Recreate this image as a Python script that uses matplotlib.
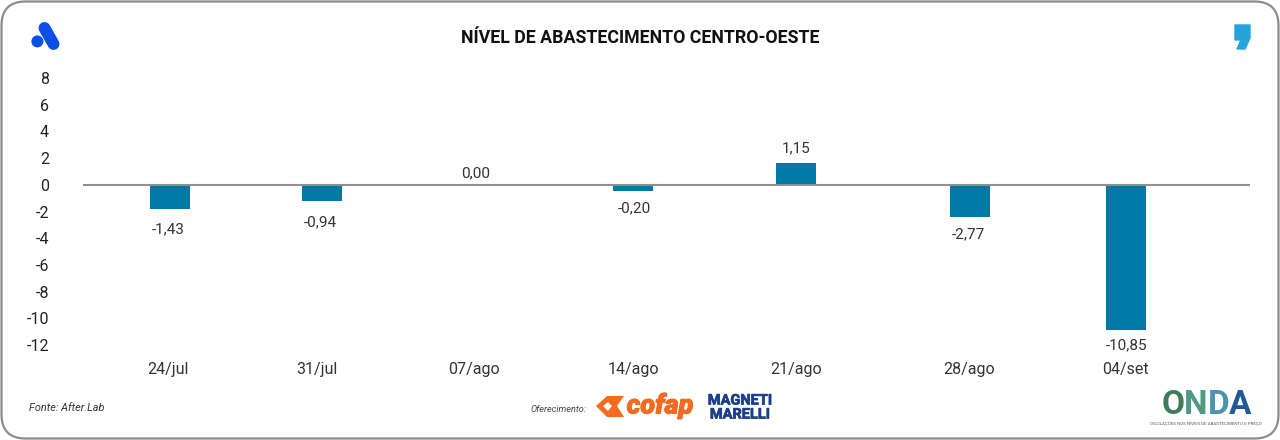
import matplotlib
matplotlib.use("Agg")
import matplotlib.pyplot as plt
from matplotlib.patches import FancyBboxPatch, Circle, Polygon
from matplotlib.lines import Line2D
import matplotlib.patheffects as pe

W, H = 1280, 440
weeks = ["24/jul", "31/jul", "07/ago", "14/ago", "21/ago", "28/ago", "04/set"]
# bar lengths as drawn in the reference (they differ from the printed labels)
bar_heights = [-1.84, -1.24, 0.00, -0.49, 1.67, -2.39, -10.85]
value_labels = ["-1,43", "-0,94", "0,00", "-0,20", "1,15", "-2,77", "-10,85"]
# the reference spaces its categories unevenly, so each has its own slot on the axis
slots = [170, 322, 475, 633, 796, 969.5, 1126]
label_slots = [168, 317, 474, 633, 796, 969, 1125]
label_dx = [-2, -2, 1, 1, 0, -1, 1]
label_dy = [-19.5, -21, 12, -17, 14, -18, -16]
y_ticks = list(range(-12, 10, 2))
title = "NÍVEL DE ABASTECIMENTO CENTRO-OESTE"
source = "Fonte: After.Lab"
sponsor = "Oferecimento:"

plt.rcParams["font.family"] = ["Roboto", "DejaVu Sans"]
fig = plt.figure(figsize=(W / 100, H / 100), dpi=100)
fig.patch.set_facecolor("white")

# page overlay in pixel coordinates
bg = fig.add_axes([0, 0, 1, 1], zorder=0)
bg.set_xlim(0, W); bg.set_ylim(H, 0); bg.axis("off")
bg.add_patch(FancyBboxPatch((1.5, 1.5), W - 3, H - 3,
                            boxstyle="round,pad=0,rounding_size=24",
                            fc="white", ec="#8c8c8c", lw=1.6))

# chart
x0, x1, ytop, ybot = 83, 1250, 78, 345
ax = fig.add_axes([x0 / W, 1 - ybot / H, (x1 - x0) / W, (ybot - ytop) / H], zorder=1)
ax.patch.set_alpha(0)
ax.set_xlim(x0, x1)
ax.set_ylim(-12, 8)
ax.bar(slots, bar_heights, width=40, color="#0079A6", zorder=2)
ax.axhline(0, color="#8f8f8f", lw=1.5, zorder=3)
for s in ax.spines.values():
    s.set_visible(False)
ax.set_yticks(y_ticks)
ax.set_yticklabels([str(t) for t in y_ticks], fontsize=11.5, color="#222222")
ax.tick_params(axis="y", length=0, pad=24.5)
ax.set_xticks(label_slots)
ax.set_xticklabels(weeks, fontsize=11.5, color="#333333")
ax.tick_params(axis="x", length=0, pad=12.5)
for s, v, t, dx, dy in zip(slots, bar_heights, value_labels, label_dx, label_dy):
    ax.annotate(t, (s, v), xytext=(dx * 0.72, dy * 0.72), textcoords="offset points",
                ha="center", va="center", fontsize=11, color="#333333")

# page texts
bg.text(640, 38, title, ha="center", va="center", fontsize=12.8, fontweight="bold", color="#111111")
bg.text(29, 408, source, ha="left", va="center", fontsize=7.8, style="italic", color="#333333")
bg.text(530, 410, sponsor, ha="left", va="center", fontsize=6.6, style="italic", color="#444444")

# left logo
blue = "#0B4EEA"
bg.add_patch(Circle((37.4, 41.4), 6, fc=blue, ec="none"))
bg.add_line(Line2D([44.5, 53.5], [28, 44], color=blue, lw=8.6, solid_capstyle="round"))

# right logo
bg.add_patch(Polygon([[1235, 25], [1250, 25], [1250, 38], [1245, 49], [1237, 49],
                      [1241, 40], [1235, 40]], closed=True, fc="#23A5DC", ec="#23A5DC",
                     lw=1, joinstyle="round"))

# sponsor marks
orange = "#F26B21"
bg.add_patch(Polygon([[596, 406], [607, 396], [624, 396], [617, 406], [624, 417], [607, 417]],
                     closed=True, fc=orange, ec="none"))
bg.add_patch(Polygon([[603, 406], [608, 402], [612, 406], [608, 411]], closed=True, fc="white", ec="none"))
cof = bg.text(660, 406, "cofap", ha="center", va="center", fontsize=19.5, fontweight="black",
              style="italic", color=orange)
cof.set_path_effects([pe.withStroke(linewidth=0.7, foreground=orange)])
navy = "#1B3F8B"
for txt, yy in zip(["MAGNETI", "MARELLI"], [400.5, 414.5]):
    t = bg.text(740, yy, txt, ha="center", va="center", fontsize=10.5, fontweight="bold", color=navy)
    t.set_path_effects([pe.withStroke(linewidth=0.5, foreground=navy)])

# ONDA mark
for ch, cx, col in zip("ONDA", [1173, 1196, 1218.5, 1240], ["#3F7D5A", "#4E9A83", "#4C93B0", "#1F5A97"]):
    bg.text(cx, 405.5, ch, ha="center", va="center", fontsize=24, fontweight="bold", color=col)
bg.text(1206, 424, "OSCILAÇÕES NOS NÍVEIS DE ABASTECIMENTO E PREÇO", ha="center", va="center",
        fontsize=3.2, color="#555555")

fig.savefig("out.png", dpi=100)
